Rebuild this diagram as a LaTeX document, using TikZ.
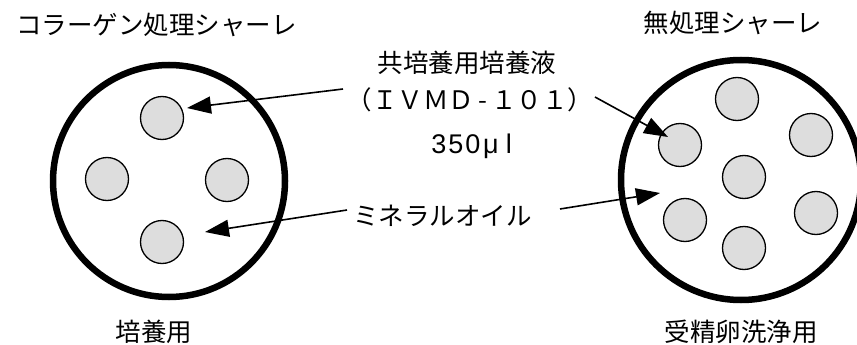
\documentclass[tikz,border=0pt]{standalone}
\usepackage{fontspec}
\newfontfamily\jp{Noto Sans CJK JP}
\newfontfamily\lat{Liberation Sans}
\usetikzlibrary{arrows.meta}
\definecolor{dropgray}{RGB}{221,221,221}
\newcommand{\fwc}[1]{\makebox[25.5pt]{#1}}
\newcommand{\hwc}[2][17pt]{\makebox[#1]{#2}}
\begin{document}
\begin{tikzpicture}[x=1pt,y=-1pt,
  dishA/.style={draw, line width=6.5pt, circle, inner sep=0pt, minimum size=#1},
  drop/.style={draw, line width=1.3pt, fill=dropgray, circle, inner sep=0pt, minimum size=43pt},
  lab/.style={font=\jp\fontsize{25.5}{30}\selectfont, inner sep=0pt},
  arr/.style={-{Triangle[length=24pt,width=17pt]}, line width=1.6pt}]
\useasboundingbox (0,0) rectangle (857,345);
% left dish
\node[dishA=232pt] (dl) at (169,181) {};
\node[drop] (l1) at (162,118) {};
\node[drop] (l2) at (107,179) {};
\node[drop] (l3) at (227,180) {};
\node[drop] (l4) at (162,242) {};
% right dish
\node[dishA=240pt] (dr) at (741,180) {};
\node[drop] (r1) at (737,99) {};
\node[drop] (r2) at (811,135) {};
\node[drop] (r3) at (680,145) {};
\node[drop] (r4) at (744,177) {};
\node[drop] (r5) at (816,213) {};
\node[drop] (r6) at (685,220) {};
\node[drop] (r7) at (744,248) {};
% labels
\node[lab, anchor=west] (t1) at (16,25) {コラーゲン処理シャーレ};
\node[lab] (t2) at (733,22.5) {無処理シャーレ};
\node[lab] (t3) at (467,63) {共培養用培養液};
\node[lab] (t4) at (470,100) {\fwc{（}\fwc{Ｉ}\fwc{Ｖ}\fwc{Ｍ}\fwc{Ｄ}\hwc[17pt]{-}\fwc{１}\fwc{０}\fwc{１}\fwc{）}};
\node[lab, font=\lat\fontsize{27}{32}\selectfont] (t5) at (474,146) {\hwc{3}\hwc{5}\hwc{0}\hwc[19pt]{μ}\hwc[17pt]{l}};
\node[lab, anchor=west] (t6) at (353,216) {ミネラルオイル};
\node[lab] (t7) at (154,332) {培養用};
\node[lab] (t8) at (741,332) {受精卵洗浄用};
% arrow ends
\coordinate (a1s) at (343,89);
\coordinate (a1e) at (187,108);
\coordinate (a2s) at (347,210);
\coordinate (a2e) at (205,232);
\coordinate (a3s) at (595,97);
\coordinate (a3e) at (668,137);
\coordinate (a4s) at (560,209);
\coordinate (a4e) at (660,193);
\draw[arr] (a1s) -- (a1e);
\draw[arr] (a2s) -- (a2e);
\draw[arr] (a3s) -- (a3e);
\draw[arr] (a4s) -- (a4e);
\end{tikzpicture}
\end{document}
